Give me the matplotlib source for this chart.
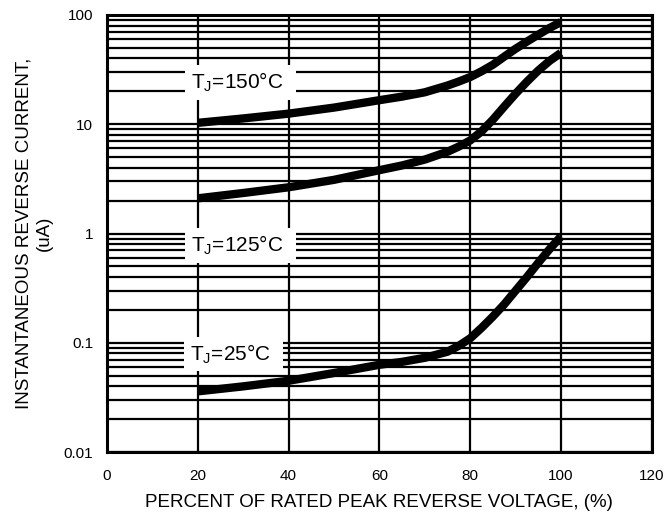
import matplotlib
matplotlib.use('Agg')
import matplotlib.pyplot as plt
import numpy as np

plt.rcParams['font.family'] = ['Liberation Sans', 'DejaVu Sans']
plt.rcParams['mathtext.fontset'] = 'custom'
plt.rcParams['mathtext.rm'] = 'Liberation Sans'

# percent of rated peak reverse voltage
pct = [20, 30, 40, 50, 60, 65, 70, 75, 77.5, 80, 82.5, 85, 87.5, 90, 92.5, 95, 97.5, 100]
# reverse current (uA)
i_150 = [10.3, 11.3, 12.5, 14.2, 16.6, 17.9, 19.6, 22.6, 24.6, 27.0, 30.5, 35.0, 41.5, 49.0, 57.0, 66.0, 76.0, 86.0]
i_125 = [2.1, 2.35, 2.65, 3.1, 3.8, 4.2, 4.75, 5.6, 6.25, 7.1, 8.6, 11.0, 14.5, 19.0, 24.5, 31.0, 38.0, 45.0]
i_25 = [0.036, 0.040, 0.045, 0.053, 0.063, 0.067, 0.073, 0.083, 0.094, 0.110, 0.137, 0.174,
        0.225, 0.30, 0.40, 0.54, 0.72, 0.94]

labels = ['T$_\\mathregular{J}$=150°C  ', 'T$_\\mathregular{J}$=125°C  ', 'T$_\\mathregular{J}$=25°C  ']
label_pos = [(18.5, 24), (18.5, 0.78), (18.2, 0.079)]

xticks = [0, 20, 40, 60, 80, 100, 120]
yticks = [0.01, 0.1, 1, 10, 100]
ytick_labels = ['0.01', '0.1', '1', '10', '100']

fig = plt.figure(figsize=(6.65, 5.15), dpi=100)
ax = fig.add_axes([0.161, 0.122, 0.819, 0.849])

ax.set_yscale('log')
ax.set_xlim(0, 120)
ax.set_ylim(0.01, 100)

ax.set_xticks(xticks)
ax.set_xticklabels([str(t) for t in xticks], fontsize=11)
ax.set_yticks(yticks)
ax.set_yticklabels(ytick_labels, fontsize=11)
ax.tick_params(which='both', length=0)
ax.tick_params(axis='x', pad=12)
ax.tick_params(axis='y', pad=10)

ax.grid(True, which='major', color='black', linewidth=1.6)
ax.grid(True, which='minor', axis='y', color='black', linewidth=1.6)
for s in ax.spines.values():
    s.set_linewidth(2.2)

for y in [i_150, i_125, i_25]:
    ax.plot(pct, y, color='black', linewidth=6, solid_capstyle='butt',
            solid_joinstyle='round', zorder=3)

for txt, (x, y) in zip(labels, label_pos):
    ax.text(x, y, txt, fontsize=15, ha='left', va='center', zorder=4,
            bbox=dict(facecolor='white', edgecolor='none', pad=4))

ax.set_xlabel('PERCENT OF RATED PEAK REVERSE VOLTAGE, (%)', fontsize=13.5, labelpad=8)
ax.set_ylabel('INSTANTANEOUS REVERSE CURRENT,\n(uA)', fontsize=13.5, labelpad=8)

fig.savefig('out.png', dpi=100)
